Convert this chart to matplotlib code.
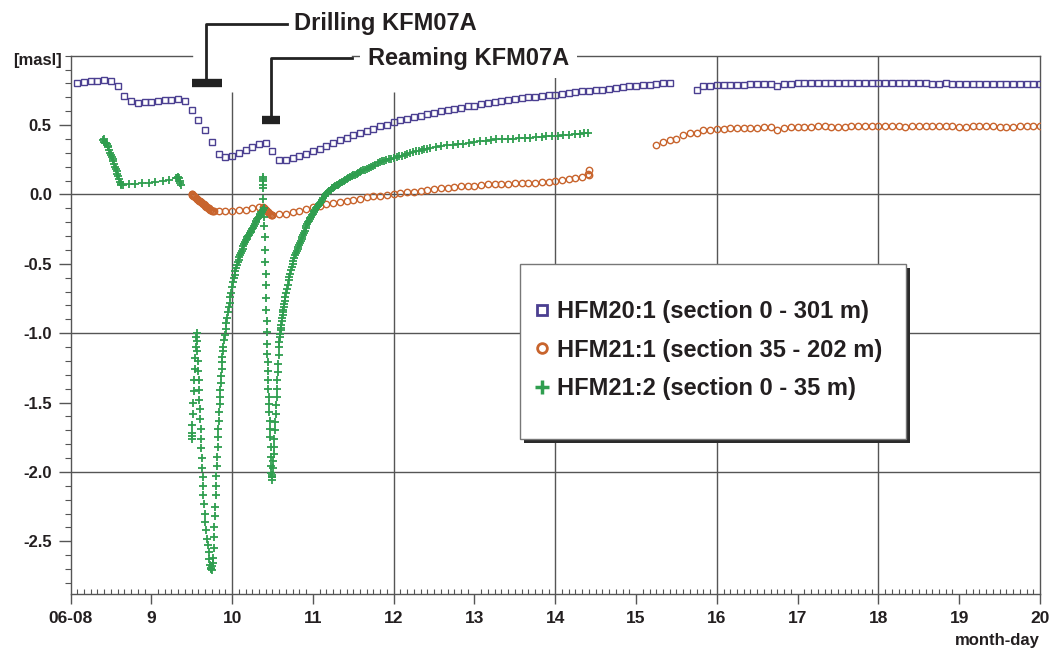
import matplotlib.pyplot as plt
import numpy as np
from matplotlib.ticker import FixedLocator, MultipleLocator
from matplotlib.patches import Rectangle
from matplotlib.lines import Line2D

plt.rcParams['font.family'] = ['Liberation Sans', 'DejaVu Sans']
plt.rcParams['font.weight'] = 'bold'
plt.rcParams['axes.unicode_minus'] = False

TXT = '#231f20'
GRID = '#555555'
C20 = '#4b3f91'
C21_1 = '#c8642d'
C21_2 = '#2f9e4f'

# --- HFM20:1, one value every 2 hours ---
hfm20_a_start = 8 + 1 / 12
hfm20_a = [0.80, 0.81, 0.815, 0.82, 0.825, 0.82, 0.785, 0.713, 0.677, 0.66,
           0.665, 0.668, 0.672, 0.68, 0.684, 0.69, 0.677, 0.61, 0.54, 0.465,
           0.375, 0.288, 0.27, 0.28, 0.30, 0.32, 0.34, 0.362, 0.372, 0.31,
           0.25, 0.25,
           0.26, 0.276, 0.293, 0.312, 0.331, 0.35, 0.37, 0.389, 0.406, 0.425,
           0.44, 0.459, 0.475, 0.49, 0.504, 0.519, 0.533, 0.545, 0.557, 0.567,
           0.579, 0.589, 0.598, 0.607, 0.617, 0.624, 0.634, 0.641, 0.65, 0.658,
           0.665, 0.672, 0.68, 0.687, 0.694, 0.699, 0.704, 0.711, 0.716, 0.72,
           0.726, 0.73, 0.737, 0.742, 0.747, 0.751, 0.756, 0.762, 0.766, 0.773,
           0.778, 0.783, 0.788, 0.79, 0.797, 0.80, 0.80]
hfm20_b_start = 15.75
hfm20_b = [0.754, 0.78, 0.785, 0.79, 0.79, 0.79, 0.792, 0.792, 0.793, 0.793,
           0.794, 0.794, 0.78,
           0.797, 0.798, 0.80, 0.80, 0.80, 0.80, 0.80, 0.80, 0.801, 0.801,
           0.80, 0.80, 0.80, 0.801, 0.80, 0.80, 0.80, 0.80, 0.80, 0.80,
           0.80, 0.80, 0.799, 0.799, 0.80, 0.799, 0.799, 0.798, 0.798, 0.798,
           0.797, 0.797, 0.797, 0.796, 0.796, 0.796, 0.795, 0.795, 0.795]

# --- HFM21:1 ---
hfm21_1_drill = [(9.50, 0.005), (9.505, 0.0), (9.51, -0.002), (9.515, -0.005),
                 (9.52, -0.008), (9.53, -0.013), (9.54, -0.018), (9.55, -0.024),
                 (9.56, -0.03), (9.57, -0.035), (9.58, -0.04), (9.59, -0.045),
                 (9.60, -0.05), (9.61, -0.054), (9.62, -0.058), (9.63, -0.062),
                 (9.64, -0.067), (9.65, -0.072), (9.66, -0.077), (9.67, -0.082),
                 (9.68, -0.087), (9.69, -0.092), (9.70, -0.096), (9.71, -0.101),
                 (9.72, -0.106), (9.73, -0.11), (9.74, -0.114), (9.75, -0.117),
                 (9.76, -0.12), (9.77, -0.122)]
hfm21_1_a_start = 9 + 10 / 12
hfm21_1_a = [-0.12, -0.12, -0.12, -0.11, -0.11, -0.10, -0.09]
hfm21_1_ream = [(10.38, -0.09), (10.39, -0.095), (10.40, -0.10), (10.41, -0.105),
                (10.42, -0.11), (10.43, -0.117), (10.44, -0.123), (10.45, -0.13),
                (10.46, -0.135), (10.47, -0.14), (10.48, -0.145), (10.49, -0.148),
                (10.50, -0.15)]
hfm21_1_b_start = 10 + 7 / 12
hfm21_1_b = [-0.144, -0.14, -0.13, -0.12, -0.106, -0.091, -0.082, -0.072, -0.063,
             -0.053, -0.044, -0.039, -0.03, -0.02, -0.014, -0.01, -0.005, 0.0,
             0.007, 0.014, 0.019, 0.024, 0.034, 0.041, 0.046, 0.05, 0.053, 0.058,
             0.06, 0.063, 0.065, 0.072, 0.077, 0.077, 0.077, 0.079, 0.081, 0.084,
             0.086, 0.091, 0.093, 0.098, 0.103, 0.113, 0.122, 0.125, 0.137]
hfm21_1_end = [(14.41, 0.15), (14.42, 0.178)]
hfm21_1_c_start = 15.25
hfm21_1_c = [0.358, 0.38, 0.39, 0.40, 0.425, 0.44, 0.442, 0.462, 0.468, 0.47,
             0.475, 0.477, 0.478, 0.48, 0.481, 0.482, 0.483, 0.484, 0.465, 0.482,
             0.485, 0.486, 0.488, 0.489, 0.49, 0.49, 0.489, 0.487, 0.488, 0.49,
             0.491, 0.49, 0.491, 0.492, 0.492, 0.491, 0.49, 0.489, 0.49, 0.491,
             0.492, 0.492, 0.491, 0.49, 0.49, 0.489, 0.488, 0.49, 0.491, 0.49,
             0.49, 0.489, 0.488, 0.489, 0.49, 0.49, 0.49, 0.49]

# --- HFM21:2 (irregular logging) ---
hfm21_2_pre = [(8.40, 0.39), (8.41, 0.40), (8.42, 0.38), (8.43, 0.37), (8.44, 0.37),
               (8.45, 0.36), (8.46, 0.35), (8.47, 0.34), (8.48, 0.32), (8.49, 0.30),
               (8.50, 0.285), (8.51, 0.27), (8.52, 0.255), (8.53, 0.24), (8.54, 0.22),
               (8.55, 0.20), (8.56, 0.185), (8.57, 0.17), (8.58, 0.15), (8.59, 0.13),
               (8.60, 0.11), (8.61, 0.09), (8.62, 0.075), (8.63, 0.065), (8.65, 0.07),
               (8.72, 0.072), (8.80, 0.075), (8.89, 0.08), (8.97, 0.083), (9.05, 0.088),
               (9.14, 0.096), (9.22, 0.105), (9.30, 0.118), (9.32, 0.12), (9.33, 0.125),
               (9.34, 0.115), (9.35, 0.10), (9.36, 0.085), (9.37, 0.07)]
hfm21_2_drill = [(9.50, -1.76), (9.503, -1.74), (9.506, -1.72), (9.51, -1.66),
                 (9.515, -1.58), (9.52, -1.50), (9.525, -1.42), (9.53, -1.34),
                 (9.537, -1.26), (9.543, -1.18), (9.55, -1.10), (9.555, -1.03),
                 (9.56, -1.00), (9.565, -1.06), (9.57, -1.13), (9.575, -1.20),
                 (9.58, -1.27), (9.585, -1.34), (9.59, -1.41), (9.595, -1.48),
                 (9.60, -1.55), (9.605, -1.62), (9.61, -1.69), (9.615, -1.76),
                 (9.62, -1.83), (9.625, -1.90), (9.63, -1.97), (9.635, -2.04),
                 (9.64, -2.10), (9.645, -2.17), (9.65, -2.23), (9.66, -2.30),
                 (9.67, -2.36), (9.68, -2.42), (9.69, -2.48), (9.70, -2.53),
                 (9.71, -2.58), (9.72, -2.63), (9.73, -2.67), (9.74, -2.70),
                 (9.745, -2.69), (9.75, -2.71), (9.755, -2.68), (9.76, -2.66),
                 (9.765, -2.62), (9.77, -2.55), (9.775, -2.47), (9.78, -2.40),
                 (9.785, -2.32), (9.79, -2.25), (9.795, -2.17), (9.80, -2.10),
                 (9.805, -2.03), (9.81, -1.96), (9.815, -1.89), (9.82, -1.82),
                 (9.825, -1.75), (9.83, -1.69), (9.835, -1.63), (9.84, -1.57),
                 (9.845, -1.51), (9.85, -1.46), (9.855, -1.41), (9.86, -1.36),
                 (9.865, -1.31), (9.87, -1.26), (9.875, -1.21), (9.88, -1.17),
                 (9.885, -1.13), (9.89, -1.10), (9.90, -1.05), (9.91, -1.01),
                 (9.92, -0.97), (9.93, -0.93), (9.94, -0.89), (9.95, -0.85),
                 (9.96, -0.81), (9.97, -0.78), (9.98, -0.74), (9.99, -0.71),
                 (10.00, -0.67), (10.01, -0.63), (10.02, -0.605), (10.03, -0.58),
                 (10.04, -0.555), (10.05, -0.53), (10.06, -0.51), (10.07, -0.49),
                 (10.08, -0.47), (10.09, -0.45), (10.10, -0.435), (10.11, -0.42),
                 (10.12, -0.405), (10.13, -0.39), (10.14, -0.375), (10.15, -0.36),
                 (10.16, -0.345), (10.17, -0.33), (10.18, -0.32), (10.19, -0.31),
                 (10.20, -0.30), (10.21, -0.29), (10.22, -0.28), (10.23, -0.27),
                 (10.24, -0.26), (10.25, -0.25), (10.26, -0.24), (10.27, -0.23),
                 (10.28, -0.215), (10.29, -0.20), (10.30, -0.19), (10.31, -0.18),
                 (10.32, -0.17), (10.33, -0.16), (10.34, -0.15), (10.35, -0.14),
                 (10.36, -0.13), (10.37, -0.125), (10.38, -0.11)]
hfm21_2_ream = [(10.380, 0.125), (10.381, 0.11), (10.382, 0.095), (10.383, 0.07),
                (10.385, 0.05), (10.388, -0.03), (10.392, -0.10), (10.396, -0.16),
                (10.40, -0.23), (10.404, -0.31), (10.408, -0.40), (10.411, -0.49),
                (10.414, -0.57), (10.417, -0.65), (10.42, -0.75), (10.424, -0.83),
                (10.427, -0.91), (10.43, -0.99), (10.433, -1.08), (10.436, -1.15),
                (10.439, -1.21), (10.442, -1.27), (10.446, -1.34), (10.45, -1.40),
                (10.454, -1.46), (10.457, -1.51), (10.461, -1.57), (10.465, -1.63),
                (10.469, -1.69), (10.472, -1.75), (10.476, -1.82), (10.48, -1.89),
                (10.484, -1.96), (10.487, -2.01), (10.49, -2.04), (10.492, -2.06)]
hfm21_2_recov = [(10.495, -2.04), (10.50, -2.02), (10.505, -1.97), (10.51, -1.92),
                 (10.515, -1.87), (10.52, -1.82), (10.525, -1.76), (10.53, -1.70),
                 (10.535, -1.64), (10.54, -1.58), (10.545, -1.52), (10.55, -1.46),
                 (10.555, -1.40), (10.56, -1.34), (10.565, -1.28), (10.57, -1.22),
                 (10.575, -1.16), (10.58, -1.10), (10.585, -1.065), (10.59, -1.03),
                 (10.595, -1.005), (10.60, -0.98), (10.605, -0.96), (10.61, -0.94),
                 (10.615, -0.915), (10.62, -0.89), (10.625, -0.87), (10.63, -0.85),
                 (10.635, -0.83), (10.64, -0.81), (10.645, -0.79), (10.65, -0.77),
                 (10.66, -0.74), (10.67, -0.71), (10.68, -0.68), (10.69, -0.65),
                 (10.70, -0.62), (10.71, -0.595), (10.72, -0.57), (10.73, -0.545),
                 (10.74, -0.52), (10.75, -0.50), (10.76, -0.48), (10.77, -0.46),
                 (10.78, -0.44), (10.79, -0.425), (10.80, -0.41), (10.81, -0.395),
                 (10.82, -0.38), (10.83, -0.365), (10.84, -0.35), (10.85, -0.335),
                 (10.86, -0.32), (10.87, -0.305), (10.88, -0.29), (10.89, -0.275),
                 (10.90, -0.26), (10.91, -0.245), (10.92, -0.23), (10.93, -0.215),
                 (10.94, -0.20), (10.95, -0.19), (10.96, -0.18), (10.97, -0.17),
                 (10.98, -0.16), (10.99, -0.15), (11.00, -0.14), (11.01, -0.13),
                 (11.02, -0.12), (11.03, -0.11), (11.04, -0.10), (11.05, -0.092),
                 (11.06, -0.085), (11.07, -0.077), (11.08, -0.07), (11.09, -0.062),
                 (11.10, -0.055), (11.115, -0.04), (11.13, -0.025), (11.145, -0.012),
                 (11.16, 0.0), (11.175, 0.01), (11.19, 0.02), (11.205, 0.028),
                 (11.22, 0.035), (11.235, 0.043), (11.25, 0.05), (11.265, 0.055),
                 (11.28, 0.06), (11.295, 0.065), (11.31, 0.07), (11.325, 0.075),
                 (11.34, 0.08), (11.36, 0.088), (11.38, 0.095), (11.40, 0.103),
                 (11.42, 0.11), (11.44, 0.118), (11.46, 0.125), (11.48, 0.131),
                 (11.50, 0.137), (11.52, 0.143), (11.54, 0.15), (11.56, 0.155),
                 (11.58, 0.16), (11.60, 0.166), (11.62, 0.173), (11.645, 0.179),
                 (11.67, 0.185), (11.695, 0.192), (11.72, 0.20), (11.745, 0.207),
                 (11.77, 0.215), (11.80, 0.224), (11.83, 0.233), (11.855, 0.238),
                 (11.88, 0.243), (11.91, 0.248), (11.94, 0.253), (11.97, 0.258),
                 (12.00, 0.262), (12.04, 0.269), (12.07, 0.275), (12.10, 0.28),
                 (12.135, 0.287), (12.17, 0.293), (12.205, 0.299), (12.24, 0.305),
                 (12.275, 0.311), (12.31, 0.316), (12.345, 0.321), (12.38, 0.326),
                 (12.415, 0.331), (12.45, 0.336), (12.52, 0.342), (12.59, 0.348),
                 (12.66, 0.353), (12.73, 0.357), (12.80, 0.362), (12.86, 0.365),
                 (12.93, 0.372), (13.00, 0.377), (13.07, 0.382), (13.14, 0.387),
                 (13.20, 0.392), (13.27, 0.396), (13.34, 0.398), (13.41, 0.40),
                 (13.48, 0.403), (13.55, 0.405), (13.62, 0.406), (13.69, 0.408),
                 (13.76, 0.411), (13.83, 0.415), (13.89, 0.418), (13.96, 0.42),
                 (14.03, 0.423), (14.10, 0.425), (14.17, 0.43), (14.24, 0.433),
                 (14.31, 0.437), (14.36, 0.44), (14.41, 0.444)]

x_ticks = [8, 9, 10, 11, 12, 13, 14, 15, 16, 17, 18, 19, 20]
x_labels = ['06-08', '9', '10', '11', '12', '13', '14', '15', '16', '17', '18', '19', '20']
y_ticks = [-2.5, -2.0, -1.5, -1.0, -0.5, 0.0, 0.5]
series_labels = ['HFM20:1 (section 0 - 301 m)',
                 'HFM21:1 (section 35 - 202 m)',
                 'HFM21:2 (section 0 - 35 m)']

drill_period = (9.51, 9.87)
ream_period = (10.37, 10.59)


def regular(start, values):
    return start + np.arange(len(values)) / 12.0


def pairs(seq):
    arr = np.array(seq)
    return arr[:, 0], arr[:, 1]


fig = plt.figure(figsize=(10.54, 6.5), dpi=100)
ax = fig.add_axes([70.5 / 1054, 1 - 594 / 650, (1040 - 70.5) / 1054, (594 - 55.7) / 650])

# grid (vertical lines stop short under the annotations)
ax.vlines([10, 12, 14, 16, 18], -2.88, [0.74, 0.74, 0.85, 1.0, 1.0],
          colors=GRID, lw=1.0, zorder=1)
ax.hlines([0.0, -1.0, -2.0], 8, 20, colors=GRID, lw=1.0, zorder=1)

sq = dict(ls='none', marker='s', ms=5, mfc='none', mew=1.0, mec=C20, zorder=3)
ci = dict(ls='none', marker='o', ms=4.6, mfc='none', mew=1.0, mec=C21_1, zorder=3)
pl = dict(ls='none', marker='+', ms=6, mew=1.3, color=C21_2, zorder=3)

ax.plot(regular(hfm20_a_start, hfm20_a), hfm20_a, **sq)
ax.plot(regular(hfm20_b_start, hfm20_b), hfm20_b, **sq)

ax.plot(*pairs(hfm21_1_drill), **ci)
ax.plot(regular(hfm21_1_a_start, hfm21_1_a), hfm21_1_a, **ci)
ax.plot(*pairs(hfm21_1_ream), **ci)
ax.plot(regular(hfm21_1_b_start, hfm21_1_b), hfm21_1_b, **ci)
ax.plot(*pairs(hfm21_1_end), **ci)
ax.plot(regular(hfm21_1_c_start, hfm21_1_c), hfm21_1_c, **ci)

for seg in (hfm21_2_pre, hfm21_2_drill, hfm21_2_ream, hfm21_2_recov):
    ax.plot(*pairs(seg), **pl)

ax.set_xlim(8, 20)
ax.set_ylim(-2.88, 1.0)

ax.xaxis.set_major_locator(FixedLocator(x_ticks))
ax.set_xticklabels(x_labels)
ax.xaxis.set_minor_locator(MultipleLocator(1 / 12))
ax.yaxis.set_major_locator(FixedLocator(y_ticks))
ax.set_yticklabels([f'{v:.1f}' for v in y_ticks])
ax.yaxis.set_minor_locator(MultipleLocator(0.1))

ax.tick_params(axis='x', which='major', direction='out', length=7, width=1,
               color=GRID, labelcolor=TXT, labelsize=12.5, pad=5)
ax.tick_params(axis='x', which='minor', direction='in', length=3.5, width=0.8, color=GRID)
ax.tick_params(axis='y', which='major', direction='out', length=8.5, width=1,
               color=GRID, labelcolor=TXT, labelsize=12, pad=5)
ax.tick_params(axis='y', which='minor', direction='out', length=4, width=0.8, color=GRID)

for s in ('left', 'bottom', 'right'):
    ax.spines[s].set_color(GRID)
    ax.spines[s].set_linewidth(1.0)
ax.spines['top'].set_visible(False)
# top frame, broken by the annotations
ax.plot([8, 9.5], [1.0, 1.0], color=GRID, lw=1.0, clip_on=False, zorder=2)
ax.plot([11.48, 20], [1.0, 1.0], color=GRID, lw=1.0, clip_on=False, zorder=2)

# drilling / reaming annotations
ax.plot(drill_period, [0.803, 0.803], color='#222222', lw=6, solid_capstyle='butt',
        clip_on=False, zorder=6)
ax.plot([9.68, 9.68, 10.68], [0.83, 1.232, 1.232], color='#222222', lw=2,
        clip_on=False, zorder=6)
ax.text(10.77, 1.232, 'Drilling KFM07A', fontsize=17, color=TXT, va='center',
        ha='left', zorder=7)
ax.plot(ream_period, [0.54, 0.54], color='#222222', lw=6, solid_capstyle='butt',
        clip_on=False, zorder=6)
ax.plot([10.48, 10.48, 11.48], [0.56, 0.98, 0.98], color='#222222', lw=2,
        clip_on=False, zorder=6)
ax.text(11.68, 0.98, 'Reaming KFM07A', fontsize=17, color=TXT, va='center',
        ha='left', zorder=7,
        bbox=dict(fc='white', ec='none', pad=6))

fig.text(62 / 1054, 1 - 60 / 650, '[masl]', fontsize=12, color=TXT, ha='right', va='center')
fig.text(1040 / 1054, 1 - 640 / 650, 'month-day', fontsize=12, color=TXT, ha='right', va='center')

# legend box with shadow
bx0, by0, bw, bh = 520 / 1054, 1 - 439 / 650, (906 - 520) / 1054, (439 - 264) / 650
ax.add_artist(Rectangle((bx0 + 4 / 1054, by0 - 4 / 650), bw, bh, transform=fig.transFigure,
                        fc='#2b2b2b', ec='none', clip_on=False, zorder=8))
ax.add_artist(Rectangle((bx0, by0), bw, bh, transform=fig.transFigure,
                        fc='white', ec='#777777', lw=1.0, clip_on=False, zorder=9))
handles = [Line2D([], [], ls='none', marker='s', ms=6.5, mfc='none', mec=C20, mew=2),
           Line2D([], [], ls='none', marker='o', ms=7, mfc='none', mec=C21_1, mew=2),
           Line2D([], [], ls='none', marker='+', ms=10, color=C21_2, mew=2.5)]
leg = ax.legend(handles, series_labels, loc='center left',
                bbox_to_anchor=(533 / 1054, 1 - 350 / 650), bbox_transform=fig.transFigure,
                frameon=False, prop=dict(weight='bold', size=17), handlelength=0.8,
                handletextpad=0.2, labelspacing=0.66, borderpad=0, borderaxespad=0)
for t in leg.get_texts():
    t.set_color(TXT)
leg.set_zorder(10)

fig.savefig('out.png', dpi=100)
